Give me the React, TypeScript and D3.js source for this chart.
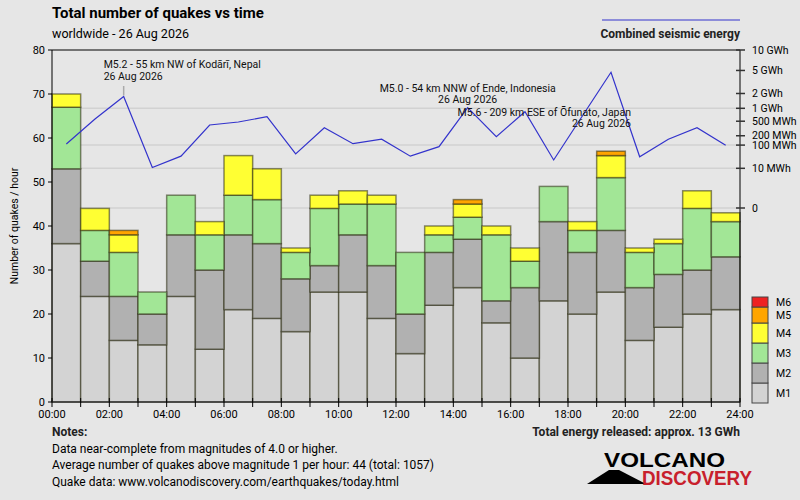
import { useEffect } from 'react';
import * as d3 from 'd3';

// hour of day (bar index) and quake counts per magnitude class
const hours = [0, 1, 2, 3, 4, 5, 6, 7, 8, 9, 10, 11, 12, 13, 14, 15, 16, 17, 18, 19, 20, 21, 22, 23];
const m1 = [36, 24, 14, 13, 24, 12, 21, 19, 16, 25, 25, 19, 11, 22, 26, 18, 10, 23, 20, 25, 14, 17, 20, 21];
const m2 = [17, 8, 10, 7, 14, 18, 17, 17, 12, 6, 13, 12, 9, 12, 11, 5, 16, 18, 14, 14, 12, 12, 10, 12];
const m3 = [14, 7, 10, 5, 9, 8, 9, 10, 6, 13, 7, 14, 14, 4, 5, 15, 6, 8, 5, 12, 8, 7, 14, 8];
const m4 = [3, 5, 4, 0, 0, 3, 9, 7, 1, 3, 3, 2, 0, 2, 3, 2, 3, 0, 2, 5, 1, 1, 4, 2];
const m5 = [0, 0, 1, 0, 0, 0, 0, 0, 0, 0, 0, 0, 0, 0, 1, 0, 0, 0, 0, 1, 0, 0, 0, 0];
const m6 = [0, 0, 0, 0, 0, 0, 0, 0, 0, 0, 0, 0, 0, 0, 0, 0, 0, 0, 0, 0, 0, 0, 0, 0];

// combined seismic energy per hour, MWh
const energy = [109, 566, 1750, 11, 38, 400, 477, 644, 47, 339, 112, 156, 38, 88, 1031, 187, 841, 26, 670, 4675, 36, 156, 339, 98];

const magKeys = ['M1', 'M2', 'M3', 'M4', 'M5', 'M6'];
const magColors = ['#d3d3d3', '#b1b1b1', '#a2e696', '#ffff33', '#ffa500', '#ee2222'];

const countTicks = [0, 10, 20, 30, 40, 50, 60, 70, 80];
const hourTicks = [0, 2, 4, 6, 8, 10, 12, 14, 16, 18, 20, 22, 24];
const energyTicks = [10000, 5000, 2000, 1000, 500, 200, 100, 10, 0];
const energyTickLabels = ['10 GWh', '5 GWh', '2 GWh', '1 GWh', '500 MWh', '200 MWh', '100 MWh', '10 MWh', '0'];
const energyGrid = [1000, 100, 10, 0];

const annotations = [
  { hour: 2, lines: ['M5.2 - 55 km NW of Kodārī, Nepal', '26 Aug 2026'], anchor: 'start', dx: -20, y: 68, tick: true },
  { hour: 14, lines: ['M5.0 - 54 km NNW of Ende, Indonesia', '26 Aug 2026'], anchor: 'middle', dx: 0, y: 91.5, tick: false },
  { hour: 19, lines: ['M5.6 - 209 km ESE of Ōfunato, Japan', '26 Aug 2026'], anchor: 'end', dx: 20, y: 115.5, tick: false },
];

const notes = [
  'Data near-complete from magnitudes of 4.0 or higher.',
  'Average number of quakes above magnitude 1 per hour: 44 (total: 1057)',
  'Quake data: www.volcanodiscovery.com/earthquakes/today.html',
];

const W = 800;
const H = 500;
const plot = { left: 52, right: 740, top: 50, bottom: 402 };
const font = 'Roboto, "Liberation Sans", sans-serif';
const legendHeights = [20, 20, 20, 20, 16, 10];

const fmtHour = (h: number) => `${String(h).padStart(2, '0')}:00`;

export default function App() {
  useEffect(() => {
    document.body.style.margin = '0';
  }, []);

  const x = d3.scaleLinear().domain([0, 24]).range([plot.left, plot.right]);
  const y = d3.scaleLinear().domain([0, 80]).range([plot.bottom, plot.top]);
  const yE = d3.scalePow().exponent(0.2).domain([0, 10000]).range([208, plot.top]);

  const rows = hours.map((h, i) => ({
    hour: h,
    M1: m1[i], M2: m2[i], M3: m3[i], M4: m4[i], M5: m5[i], M6: m6[i],
  }));
  const series = d3.stack<any>().keys(magKeys)(rows);

  const energyLine = d3.line<number>()
    .x((_, i) => x(hours[i] + 0.5))
    .y(d => yE(d));

  // legend boxes stacked upward from the bottom of the plot
  let legendY = plot.bottom + 1;
  const legend = magKeys.map((k, i) => {
    const h = legendHeights[i];
    legendY -= h;
    return { key: k, color: magColors[i], y: legendY, h };
  });

  return (
    <svg width={W} height={H} style={{ display: 'block', background: '#e6e6e6' }} fontFamily={font}>
      <rect x={0} y={0} width={W} height={H} fill="#e6e6e6" />

      {/* header */}
      <text x={52} y={18} fontSize={15} fontWeight="bold" fill="#000">Total number of quakes vs time</text>
      <text x={52} y={38} fontSize={12.5} fill="#000">worldwide - 26 Aug 2026</text>
      <line x1={602} x2={740} y1={20} y2={20} stroke="#3333cc" strokeWidth={1} />
      <text x={740} y={38} fontSize={12} fontWeight="bold" textAnchor="end" fill="#222">Combined seismic energy</text>

      {/* energy grid lines */}
      {energyGrid.map(e => (
        <line key={e} x1={plot.left} x2={plot.right} y1={yE(e)} y2={yE(e)} stroke="#d2d2d2" strokeWidth={1.5} />
      ))}

      {/* stacked bars */}
      {series.map((s, si) => (
        <g key={s.key} fill={magColors[si]}>
          {s.filter(d => d[1] - d[0] > 0).map(d => (
            <rect
              key={d.data.hour}
              x={x(d.data.hour)}
              width={x(d.data.hour + 1) - x(d.data.hour)}
              y={y(d[1])}
              height={y(d[0]) - y(d[1])}
              stroke="#2a2a10"
              strokeOpacity={0.55}
              strokeWidth={1.5}
            />
          ))}
        </g>
      ))}

      {/* energy line */}
      <path d={energyLine(energy) || ''} fill="none" stroke="#3333cc" strokeWidth={1.2} />

      {/* annotations */}
      {annotations.map(a => (
        <g key={a.hour}>
          {a.tick && (
            <line x1={x(a.hour + 0.5)} x2={x(a.hour + 0.5)} y1={a.y + 18} y2={yE(energy[a.hour]) - 1} stroke="#aaa" strokeWidth={1.5} />
          )}
          {a.lines.map((l, li) => (
            <text key={li} x={x(a.hour + 0.5) + a.dx} y={a.y + li * 11.5} fontSize={10.5} textAnchor={a.anchor} fill="#111">{l}</text>
          ))}
        </g>
      ))}

      {/* frame */}
      <line x1={plot.left} x2={plot.right} y1={plot.top} y2={plot.top} stroke="#000" strokeWidth={1} />
      <line x1={plot.left} x2={plot.left} y1={plot.top} y2={plot.bottom} stroke="#000" strokeWidth={1} />
      <line x1={plot.right} x2={plot.right} y1={plot.top} y2={plot.bottom} stroke="#000" strokeWidth={1} />
      <line x1={plot.left} x2={plot.right} y1={plot.bottom} y2={plot.bottom} stroke="#333" strokeWidth={1.5} />

      {/* left axis */}
      {countTicks.map(t => (
        <g key={t}>
          <line x1={plot.left - 4} x2={plot.left} y1={y(t)} y2={y(t)} stroke="#000" />
          <text x={plot.left - 7} y={y(t) + 3.5} fontSize={11} textAnchor="end" fill="#000">{t}</text>
        </g>
      ))}
      <text
        transform={`translate(18, ${(plot.top + plot.bottom) / 2}) rotate(-90)`}
        fontSize={10.5}
        textAnchor="middle"
        fill="#000"
      >
        Number of quakes / hour
      </text>

      {/* bottom axis */}
      {d3.range(25).map(h => (
        <line key={h} x1={x(h)} x2={x(h)} y1={plot.bottom - 4} y2={plot.bottom + 5} stroke="#000" />
      ))}
      {hourTicks.map(h => (
        <text key={h} x={x(h)} y={418} fontSize={11} textAnchor="middle" fill="#000">{fmtHour(h)}</text>
      ))}

      {/* right axis */}
      {energyTicks.map((e, i) => (
        <g key={e}>
          <line x1={plot.right - 4} x2={plot.right + 5} y1={yE(e)} y2={yE(e)} stroke="#333" strokeWidth={1.5} />
          <text x={plot.right + 12} y={yE(e) + 3.5} fontSize={10.5} fill="#000">{energyTickLabels[i]}</text>
        </g>
      ))}

      {/* magnitude legend */}
      {legend.map(l => (
        <g key={l.key}>
          <rect x={752} y={l.y} width={16} height={l.h} fill={l.color} stroke="#444" strokeWidth={1} />
          <text x={776} y={l.y + l.h / 2 + 4} fontSize={10.5} fill="#000">{l.key}</text>
        </g>
      ))}

      {/* notes */}
      <text x={52} y={436} fontSize={12} fontWeight="bold" fill="#222">Notes:</text>
      {notes.map((n, i) => (
        <text key={i} x={52} y={452.5 + i * 16.5} fontSize={12} fill="#000">{n}</text>
      ))}
      <text x={740} y={436} fontSize={12} fontWeight="bold" textAnchor="end" fill="#222">Total energy released: approx. 13 GWh</text>

      {/* logo */}
      <path d="M587,484 L609,470 L619,470 L646,484 Z" fill="#000" />
      <text x={604} y={467} fontSize={21} fontWeight="bold" fill="#000" textLength={121} lengthAdjust="spacingAndGlyphs"
        fontFamily='"Liberation Sans", sans-serif'>VOLCANO</text>
      <text x={642} y={484.5} fontSize={20} fontWeight="bold" fill="#c8202c" textLength={110} lengthAdjust="spacingAndGlyphs"
        fontFamily='"Liberation Sans", sans-serif'>DISCOVERY</text>
    </svg>
  );
}
